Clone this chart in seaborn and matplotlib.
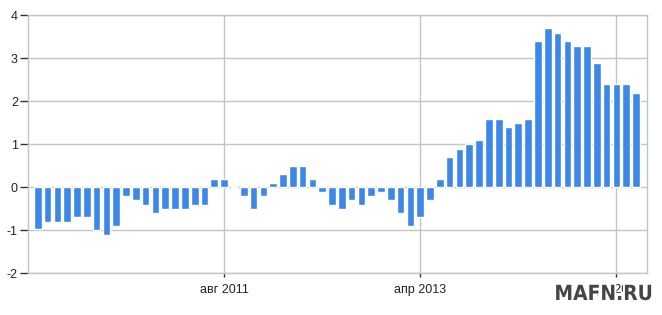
import matplotlib
matplotlib.use("Agg")
import matplotlib.pyplot as plt
import matplotlib.patheffects as pe
import seaborn as sns
import pandas as pd

sns.set_style("white")
plt.rcParams['font.family'] = ['Liberation Sans', 'DejaVu Sans']

month_names = ["янв", "фев", "мар", "апр", "май", "июн",
               "июл", "авг", "сен", "окт", "ноя", "дек"]
years = [2010, 2011, 2012, 2013, 2014, 2015]
months = [f"{m} {y}" for y in years for m in month_names][:62]

values = [
    -0.96, -0.8, -0.8, -0.8, -0.7, -0.7, -1.0, -1.1, -0.9, -0.2, -0.3, -0.4,   # 2010
    -0.6, -0.5, -0.5, -0.5, -0.4, -0.4, 0.2, 0.2, 0.0, -0.2, -0.5, -0.2,      # 2011
    0.1, 0.3, 0.5, 0.5, 0.2, -0.1, -0.4, -0.5, -0.3, -0.4, -0.2, -0.1,        # 2012
    -0.3, -0.6, -0.9, -0.7, -0.3, 0.2, 0.7, 0.9, 1.0, 1.1, 1.6, 1.6,          # 2013
    1.4, 1.5, 1.6, 3.4, 3.7, 3.6, 3.4, 3.3, 3.3, 2.9, 2.4, 2.4,               # 2014
    2.4, 2.2,                                                                  # 2015
]
tick_labels = ["авг 2011", "апр 2013", "дек 2014"]
y_ticks = [-2, -1, 0, 1, 2, 3, 4]

df = pd.DataFrame({"month": months, "value": values})

fig = plt.figure(figsize=(6.62, 3.15), dpi=100)
ax = fig.add_axes([0.0427, 0.1324, 0.977 - 0.0427, 0.951 - 0.1324])

grid_c = "#c4c4c4"
for y in y_ticks:
    ax.axhline(y, color=grid_c, lw=1.0, zorder=0)
tick_pos = [months.index(t) for t in tick_labels]
for x in tick_pos:
    ax.axvline(x, color=grid_c, lw=1.0, zorder=0)

sns.barplot(data=df, x="month", y="value", order=months, color="#3d87e8",
            saturation=1, width=0.78, ax=ax, zorder=2)

ax.set_xlim(-0.97, 62.1)
ax.set_ylim(-2, 4)
ax.set_xticks(tick_pos)
ax.set_xticklabels(tick_labels)
ax.set_yticks(y_ticks)
ax.set_yticklabels([str(v) for v in y_ticks])
ax.set_xlabel("")
ax.set_ylabel("")

for s in ["left", "bottom", "right", "top"]:
    ax.spines[s].set_color(grid_c)
    ax.spines[s].set_linewidth(1.0)
ax.tick_params(axis="y", direction="out", length=6, width=1, color="#333333",
               pad=1.5, labelsize=9, labelcolor="#222222", left=True)
ax.tick_params(axis="x", direction="out", length=3, width=1, color="#333333",
               pad=5, labelsize=9, labelcolor="#222222", bottom=True)

fig.text(0.912, 0.035, "MAFN.RU", fontsize=15, fontweight="bold", color="#454545",
         ha="center", va="bottom", family=["DejaVu Sans"], stretch="condensed",
         path_effects=[pe.withStroke(linewidth=3, foreground="white")], zorder=10)

fig.savefig("out.png", dpi=100)
